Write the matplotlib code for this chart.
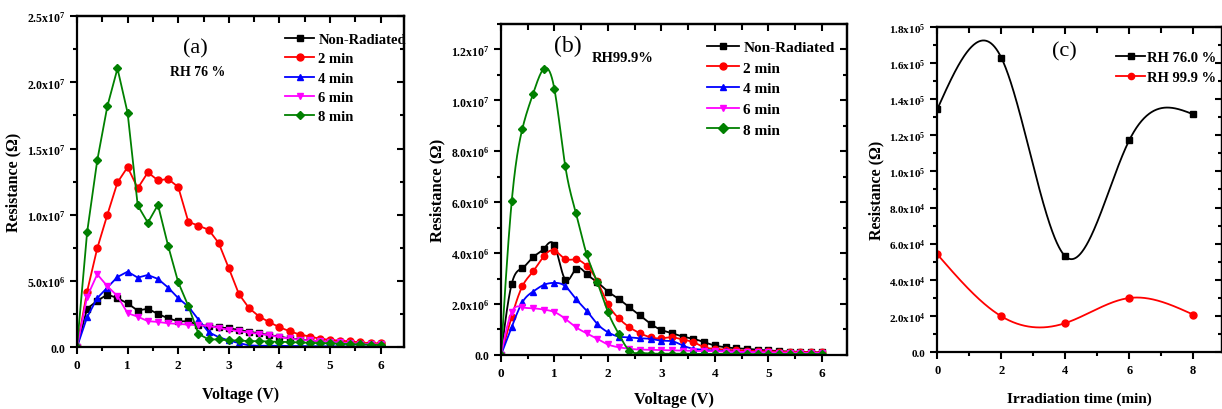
import numpy as np
import matplotlib
matplotlib.use("Agg")
import matplotlib.pyplot as plt
from matplotlib.lines import Line2D
from matplotlib.ticker import MultipleLocator

plt.rcParams["font.family"] = ["Liberation Serif", "DejaVu Serif"]
plt.rcParams["font.weight"] = "bold"
plt.rcParams["mathtext.fontset"] = "custom"
plt.rcParams["mathtext.rm"] = "Liberation Serif:bold"
plt.rcParams["mathtext.it"] = "Liberation Serif:bold"
plt.rcParams["mathtext.bf"] = "Liberation Serif:bold"
plt.rcParams["axes.linewidth"] = 1.6

# ---------------- DATA ----------------
volts = [0, 0.2, 0.4, 0.6, 0.8, 1.0, 1.2, 1.4, 1.6, 1.8, 2.0,
         2.2, 2.4, 2.6, 2.8, 3.0, 3.2, 3.4, 3.6, 3.8, 4.0,
         4.2, 4.4, 4.6, 4.8, 5.0, 5.2, 5.4, 5.6, 5.8, 6.0]

labels_v = ["Non-Radiated", "2 min", "4 min", "6 min", "8 min"]

# panel (a), RH 76 %, values in 1e6 ohm
a_non = [0, 2.9, 3.5, 3.97, 3.7, 3.3, 2.76, 2.9, 2.5, 2.18, 1.95,
         1.95, 1.68, 1.6, 1.5, 1.42, 1.3, 1.15, 1.05, 0.9, 0.8,
         0.65, 0.58, 0.5, 0.45, 0.4, 0.35, 0.3, 0.27, 0.24, 0.2]
a_2 = [0, 4.2, 7.46, 10.0, 12.44, 13.6, 12.0, 13.2, 12.6, 12.7, 12.1,
       9.47, 9.17, 8.87, 7.86, 5.95, 4.0, 2.94, 2.31, 1.88, 1.5,
       1.2, 0.95, 0.8, 0.63, 0.55, 0.48, 0.43, 0.35, 0.3, 0.28]
a_4 = [0, 2.26, 3.7, 4.5, 5.3, 5.7, 5.25, 5.45, 5.15, 4.5, 3.7,
       3.06, 2.08, 1.13, 0.75, 0.5, 0.3, 0.13, 0.1, 0.1, 0.1,
       0.08, 0.08, 0.07, 0.07, 0.06, 0.06, 0.05, 0.05, 0.05, 0.05]
a_6 = [0, 3.8, 5.5, 4.6, 3.85, 2.56, 2.3, 1.96, 1.9, 1.8, 1.75,
       1.7, 1.65, 1.6, 1.45, 1.3, 1.2, 1.1, 1.0, 0.9, 0.75,
       0.65, 0.55, 0.5, 0.45, 0.4, 0.35, 0.3, 0.27, 0.23, 0.2]
a_8 = [0, 8.67, 14.1, 18.2, 21.05, 17.7, 10.7, 9.4, 10.75, 7.66, 4.9,
       3.1, 1.0, 0.58, 0.58, 0.5, 0.5, 0.45, 0.45, 0.42, 0.4,
       0.38, 0.35, 0.32, 0.3, 0.28, 0.25, 0.22, 0.2, 0.18, 0.15]

# panel (b), RH 99.9 %, values in 1e6 ohm
b_non = [0, 2.79, 3.41, 3.84, 4.17, 4.3, 2.96, 3.38, 3.18, 2.86, 2.49,
         2.2, 1.87, 1.55, 1.22, 0.98, 0.85, 0.72, 0.63, 0.5, 0.37,
         0.3, 0.26, 0.24, 0.2, 0.18, 0.15, 0.13, 0.12, 0.1, 0.1]
b_2 = [0, 1.5, 2.7, 3.28, 3.88, 4.1, 3.77, 3.75, 3.5, 2.9, 2.0,
       1.44, 1.09, 0.85, 0.69, 0.65, 0.69, 0.6, 0.5, 0.3, 0.24,
       0.2, 0.18, 0.16, 0.15, 0.14, 0.13, 0.12, 0.11, 0.1, 0.1]
b_4 = [0, 1.09, 2.07, 2.49, 2.75, 2.83, 2.7, 2.2, 1.74, 1.22, 0.89,
       0.72, 0.69, 0.65, 0.63, 0.56, 0.54, 0.37, 0.24, 0.2, 0.16,
       0.14, 0.12, 0.1, 0.09, 0.08, 0.07, 0.06, 0.06, 0.05, 0.05]
b_6 = [0, 1.68, 1.87, 1.83, 1.78, 1.68, 1.42, 1.09, 0.85, 0.63, 0.41,
       0.3, 0.24, 0.21, 0.2, 0.19, 0.18, 0.17, 0.16, 0.15, 0.14,
       0.13, 0.12, 0.11, 0.1, 0.1, 0.09, 0.09, 0.08, 0.08, 0.08]
b_8 = [0, 6.03, 8.89, 10.26, 11.24, 10.43, 7.44, 5.58, 3.97, 2.86, 1.68,
       0.83, 0.17, 0.07, 0.05, 0.05, 0.05, 0.05, 0.04, 0.04, 0.04,
       0.04, 0.04, 0.03, 0.03, 0.03, 0.03, 0.03, 0.03, 0.03, 0.03]

# panel (c), values in 1e4 ohm
times = [0, 2, 4, 6, 8]
rh76 = [13.44, 16.3, 5.3, 11.72, 13.16]
rh999 = [5.41, 1.98, 1.6, 2.99, 2.07]
labels_c = ["RH 76.0 %", "RH 99.9 %"]

# tick labels
a_yticks = [0, 5e6, 1e7, 1.5e7, 2e7, 2.5e7]
a_ylabels = ["0.0", "5.0x10$^{6}$", "1.0x10$^{7}$", "1.5x10$^{7}$",
             "2.0x10$^{7}$", "2.5x10$^{7}$"]
b_yticks = [0, 2e6, 4e6, 6e6, 8e6, 1e7, 1.2e7]
b_ylabels = ["0.0", "2.0x10$^{6}$", "4.0x10$^{6}$", "6.0x10$^{6}$",
             "8.0x10$^{6}$", "1.0x10$^{7}$", "1.2x10$^{7}$"]
c_yticks = [0, 2e4, 4e4, 6e4, 8e4, 1e5, 1.2e5, 1.4e5, 1.6e5, 1.8e5]
c_ylabels = ["0.0", "2.0x10$^{4}$", "4.0x10$^{4}$", "6.0x10$^{4}$",
             "8.0x10$^{4}$", "1.0x10$^{5}$", "1.2x10$^{5}$", "1.4x10$^{5}$",
             "1.6x10$^{5}$", "1.8x10$^{5}$"]

colors = ["#000000", "#ff0000", "#0000ff", "#ff00ff", "#008000"]
markers = ["s", "o", "^", "v", "D"]


def smooth(x, y, n=600):
    # natural cubic spline through the points (drawing only)
    x = np.asarray(x, float)
    y = np.asarray(y, float)
    h = np.diff(x)
    m = len(x)
    A = np.zeros((m, m))
    r = np.zeros(m)
    A[0, 0] = A[-1, -1] = 1
    for i in range(1, m - 1):
        A[i, i - 1] = h[i - 1]
        A[i, i] = 2 * (h[i - 1] + h[i])
        A[i, i + 1] = h[i]
        r[i] = 3 * ((y[i + 1] - y[i]) / h[i] - (y[i] - y[i - 1]) / h[i - 1])
    c = np.linalg.solve(A, r)
    b = (y[1:] - y[:-1]) / h - h * (2 * c[:-1] + c[1:]) / 3
    d = (c[1:] - c[:-1]) / (3 * h)
    xs = np.linspace(x[0], x[-1], n)
    idx = np.clip(np.searchsorted(x, xs) - 1, 0, m - 2)
    dx = xs - x[idx]
    return xs, y[idx] + b[idx] * dx + c[idx] * dx ** 2 + d[idx] * dx ** 3


def frame(ax, xmaj, xmin, ymin, size=8.5):
    ax.xaxis.set_major_locator(MultipleLocator(xmaj))
    ax.xaxis.set_minor_locator(MultipleLocator(xmin))
    ax.yaxis.set_minor_locator(MultipleLocator(ymin))
    ax.tick_params(which="both", direction="out", width=1.5, labelsize=size)
    ax.tick_params(axis="x", labelsize=size + 1)
    ax.tick_params(which="major", length=5)
    ax.tick_params(which="minor", length=3)
    top = ax.secondary_xaxis("top")
    top.xaxis.set_major_locator(MultipleLocator(xmaj))
    top.xaxis.set_minor_locator(MultipleLocator(xmin))
    top.tick_params(which="both", direction="in", width=1.5, labeltop=False)
    top.tick_params(which="major", length=5)
    top.tick_params(which="minor", length=4)
    right = ax.secondary_yaxis("right")
    right.yaxis.set_major_locator(MultipleLocator(ax.get_yticks()[1]))
    right.yaxis.set_minor_locator(MultipleLocator(ymin))
    right.tick_params(which="both", direction="in", width=1.5, labelright=False)
    right.tick_params(which="major", length=5)
    right.tick_params(which="minor", length=3)
    for lab in ax.get_xticklabels() + ax.get_yticklabels():
        lab.set_fontweight("bold")


fig = plt.figure(figsize=(12.22, 4.10), dpi=100)

# ---------------- (a) ----------------
ax1 = fig.add_axes([0.063, 0.151, 0.268, 0.807])
for ys, lab, col, mk in zip([a_non, a_2, a_4, a_6, a_8], labels_v, colors, markers):
    ax1.plot(volts, np.array(ys) * 1e6, color=col, marker=mk, ms=5 if mk != "D" else 4.3,
             lw=1.3, label=lab)
ax1.set_xlim(0, 6.47)
ax1.set_ylim(0, 2.5e7)
ax1.set_yticks(a_yticks, a_ylabels)
frame(ax1, 1, 0.5, 2.5e6)
ax1.set_xlabel("Voltage (V)", fontsize=11.5, fontweight="bold", labelpad=11)
ax1.set_ylabel("Resistance (\u03a9)", fontsize=11.5, fontweight="bold", labelpad=4)
ax1.text(2.33, 2.26e7, "(a)", fontsize=16, fontweight="normal", ha="center", va="center")
ax1.text(2.39, 2.08e7, "RH 76 %", fontsize=10, fontweight="bold", ha="center", va="center")
ax1.legend(loc="upper left", bbox_to_anchor=(0.635, 0.95), frameon=False, fontsize=10.5,
           handlelength=2.0, handletextpad=0.3, labelspacing=0.42, borderpad=0,
           borderaxespad=0)

# ---------------- (b) ----------------
ax2 = fig.add_axes([0.41, 0.132, 0.283, 0.807])
handles = []
for ys, lab, col, mk in zip([b_non, b_2, b_4, b_6, b_8], labels_v, colors, markers):
    vals = np.array(ys) * 1e6
    xs, sm = smooth(volts, vals)
    ax2.plot(xs, sm, color=col, lw=1.3)
    ax2.plot(volts, vals, ls="none", color=col, marker=mk, ms=4.6 if mk != "D" else 4)
    handles.append(Line2D([], [], color=col, marker=mk, ms=5, lw=1.3, label=lab))
ax2.set_xlim(0, 6.47)
ax2.set_ylim(0, 1.3e7)
ax2.set_yticks(b_yticks, b_ylabels)
frame(ax2, 1, 0.5, 1e6)
ax2.set_xlabel("Voltage (V)", fontsize=12, fontweight="bold", labelpad=9)
ax2.set_ylabel("Resistance (\u03a9)", fontsize=12, fontweight="bold", labelpad=4)
ax2.text(1.25, 1.217e7, "(b)", fontsize=17, fontweight="normal", ha="center", va="center")
ax2.text(2.28, 1.17e7, "RH99.9%", fontsize=10.5, fontweight="bold", ha="center", va="center")
ax2.legend(handles=handles, loc="upper left", bbox_to_anchor=(0.595, 0.95), frameon=False,
           fontsize=11, handlelength=2.1, handletextpad=0.3, labelspacing=0.45, borderpad=0,
           borderaxespad=0)

# ---------------- (c) ----------------
ax3 = fig.add_axes([0.767, 0.139, 0.233, 0.793])
handles = []
for ys, lab, col, mk in zip([rh76, rh999], labels_c, ["#000000", "#ff0000"], ["s", "o"]):
    vals = np.array(ys) * 1e4
    xs, sm = smooth(times, vals)
    ax3.plot(xs, sm, color=col, lw=1.3)
    ax3.plot(times, vals, ls="none", color=col, marker=mk, ms=5)
    handles.append(Line2D([], [], color=col, marker=mk, ms=4.5, lw=1.3, label=lab))
ax3.set_xlim(0, 8.9)
ax3.set_ylim(0, 1.8e5)
ax3.set_yticks(c_yticks, c_ylabels)
frame(ax3, 2, 1, 1e4, size=8)
ax3.set_xlabel("Irradiation time (min)", fontsize=11, fontweight="bold", labelpad=11)
ax3.set_ylabel("Resistance (\u03a9)", fontsize=11.5, fontweight="bold", labelpad=3)
ax3.text(3.97, 1.667e5, "(c)", fontsize=16, fontweight="normal", ha="center", va="center")
ax3.legend(handles=handles, loc="upper left", bbox_to_anchor=(0.628, 0.925), frameon=False,
           fontsize=10.5, handlelength=2.0, handletextpad=0.1, labelspacing=0.45, borderpad=0,
           borderaxespad=0)

fig.savefig("out.png", dpi=100, facecolor="white")
